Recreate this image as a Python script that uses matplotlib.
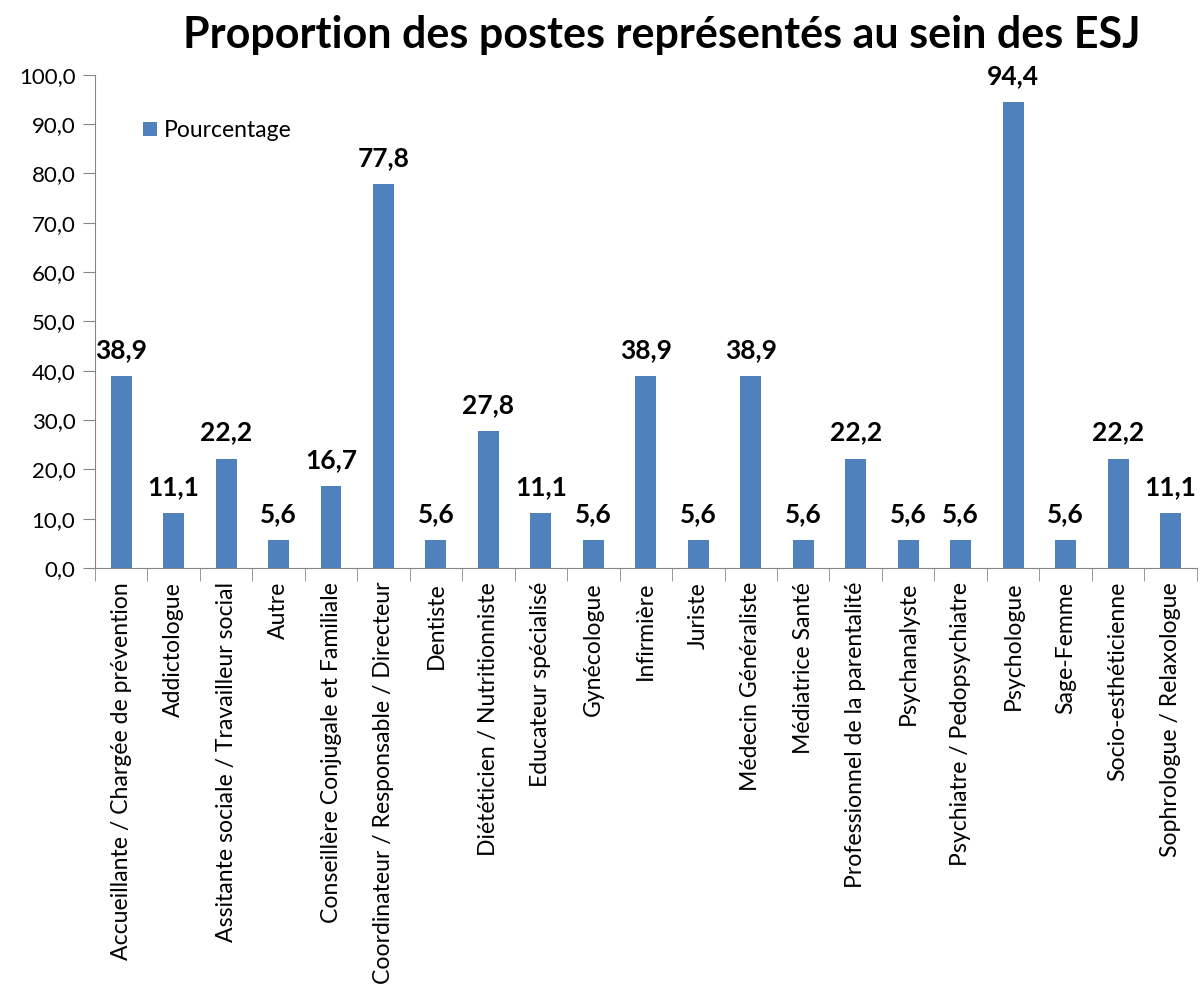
import matplotlib.pyplot as plt
from matplotlib.ticker import FuncFormatter, FixedLocator

postes = [
    "Accueillante / Chargée de prévention",
    "Addictologue",
    "Assitante sociale / Travailleur social",
    "Autre",
    "Conseillère Conjugale et Familiale",
    "Coordinateur / Responsable / Directeur",
    "Dentiste",
    "Diététicien / Nutritionniste",
    "Educateur spécialisé",
    "Gynécologue",
    "Infirmière",
    "Juriste",
    "Médecin Généraliste",
    "Médiatrice Santé",
    "Professionnel de la parentalité",
    "Psychanalyste",
    "Psychiatre / Pedopsychiatre",
    "Psychologue",
    "Sage-Femme",
    "Socio-esthéticienne",
    "Sophrologue / Relaxologue",
]
pourcentage = [38.9, 11.1, 22.2, 5.6, 16.7, 77.8, 5.6, 27.8, 11.1, 5.6, 38.9,
               5.6, 38.9, 5.6, 22.2, 5.6, 5.6, 94.4, 5.6, 22.2, 11.1]

plt.rcParams['font.family'] = ['Lato', 'DejaVu Sans']
bleu = '#4F81BD'
gris = '#868686'

fig = plt.figure(figsize=(12.01, 9.96), dpi=100)
ax = fig.add_axes([0.079, 0.4297, 0.9175, 0.4953])

x = range(len(postes))
barres = ax.bar(x, pourcentage, width=0.4, color=bleu, label='Pourcentage')

ax.set_xlim(-0.5, len(postes) - 0.5)
ax.set_ylim(0, 100)
ax.set_yticks(range(0, 101, 10))
ax.yaxis.set_major_formatter(FuncFormatter(lambda v, p: f"{v:.1f}".replace('.', ',')))

# étiquettes au centre, petites marques entre les catégories
ax.set_xticks(list(x))
ax.set_xticklabels(postes, rotation=90, fontsize=16.6, color='black')
ax.xaxis.set_minor_locator(FixedLocator([i - 0.5 for i in range(len(postes) + 1)]))
ax.tick_params(axis='x', which='major', length=0, pad=10)
ax.tick_params(axis='x', which='minor', length=9, color=gris, direction='out')
ax.tick_params(axis='y', length=9, color=gris, labelsize=16, pad=5)

for s in ['top', 'right']:
    ax.spines[s].set_visible(False)
for s in ['left', 'bottom']:
    ax.spines[s].set_color(gris)

for b, v in zip(barres, pourcentage):
    ax.annotate(f"{v:.1f}".replace('.', ','), (b.get_x() + b.get_width() / 2, v),
                xytext=(0, 10), textcoords='offset points', ha='center', va='bottom',
                fontsize=19, fontweight='bold')

ax.legend(loc='upper left', bbox_to_anchor=(0.025, 0.95), frameon=False,
          fontsize=16.5, handlelength=0.6, handleheight=0.6, handletextpad=0.3)

fig.text(0.551, 0.965, "Proportion des postes représentés au sein des ESJ",
         ha='center', va='center', fontsize=31, fontweight='bold')

fig.savefig('out.png', dpi=100)
